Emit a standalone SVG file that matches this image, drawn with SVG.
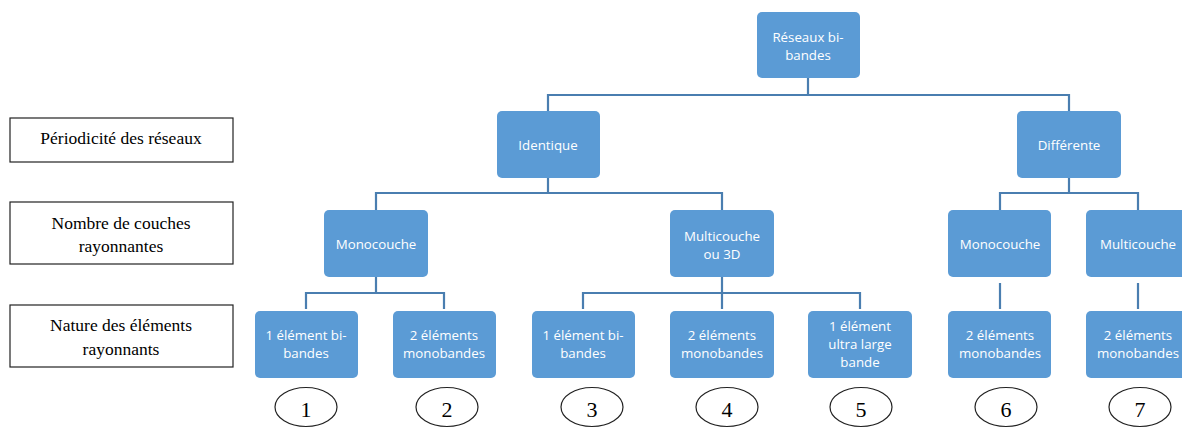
<svg xmlns="http://www.w3.org/2000/svg" width="1182" height="428" viewBox="0 0 1182 428">
<style>
.n{fill:#5B9BD5;}
.t{fill:#fff;font-family:"Open Sans","Liberation Sans",sans-serif;font-size:13.3px;text-anchor:middle;}
.c{fill:none;stroke:#4A7EB0;stroke-width:2.2;}
.lb{fill:#fff;stroke:#222;stroke-width:1.2;}
.lt{fill:#000;font-family:"Liberation Serif",serif;font-size:17.5px;text-anchor:middle;}
.el{fill:#fff;stroke:#222;stroke-width:1.2;}
.nt{fill:#000;font-family:"Liberation Serif",serif;font-size:22px;text-anchor:middle;}
</style>
<rect width="1182" height="428" fill="#fff"/>
<g id="connectors">
<path class="c" d="M808,78V95M548,111V95H1069V111"/>
<path class="c" d="M548,178V193M376,210V193H722V210"/>
<path class="c" d="M1069,178V193M1000,210V193H1138V210"/>
<path class="c" d="M376,277V293M306,309V293H444V309"/>
<path class="c" d="M722,277V309M583,309V293H860V309"/>
<path class="c" d="M1000,283V309"/>
<path class="c" d="M1138,283V309"/>
</g>
<g id="label-periodicite"><rect class="lb" x="10" y="118" width="223" height="44"/><text class="lt" x="121" y="144">Périodicité des réseaux</text></g>
<g id="label-couches"><rect class="lb" x="10" y="202" width="223" height="62"/><text class="lt" x="121" y="229">Nombre de couches</text><text class="lt" x="121" y="252">rayonnantes</text></g>
<g id="label-nature"><rect class="lb" x="10" y="305" width="223" height="62"/><text class="lt" x="121" y="331">Nature des éléments</text><text class="lt" x="121" y="355">rayonnants</text></g>
<g id="root"><rect class="n" x="757" y="12" width="103" height="66" rx="5"/><text class="t" x="808" y="42">Réseaux bi-</text><text class="t" x="808" y="60">bandes</text></g>
<g id="identique"><rect class="n" x="497" y="111" width="103" height="67" rx="5"/><text class="t" x="548" y="150">Identique</text></g>
<g id="differente"><rect class="n" x="1017" y="111" width="104" height="67" rx="5"/><text class="t" x="1069" y="150">Différente</text></g>
<g id="mono1"><rect class="n" x="324" y="210" width="104" height="67" rx="5"/><text class="t" x="376" y="249">Monocouche</text></g>
<g id="multi1"><rect class="n" x="670" y="210" width="104" height="67" rx="5"/><text class="t" x="722" y="241">Multicouche</text><text class="t" x="722" y="259">ou 3D</text></g>
<g id="mono2"><rect class="n" x="948" y="210" width="103" height="67" rx="5"/><text class="t" x="1000" y="249">Monocouche</text></g>
<g id="multi2"><rect class="n" x="1086" y="210" width="104" height="67" rx="5"/><text class="t" x="1138" y="249">Multicouche</text></g>
<g id="n1"><rect class="n" x="255" y="311" width="103" height="67" rx="5"/><text class="t" x="306" y="340">1 élément bi-</text><text class="t" x="306" y="358">bandes</text></g>
<g id="n2"><rect class="n" x="393" y="311" width="103" height="67" rx="5"/><text class="t" x="444" y="340">2 éléments</text><text class="t" x="444" y="358">monobandes</text></g>
<g id="n3"><rect class="n" x="532" y="311" width="103" height="67" rx="5"/><text class="t" x="583" y="340">1 élément bi-</text><text class="t" x="583" y="358">bandes</text></g>
<g id="n4"><rect class="n" x="670" y="311" width="104" height="67" rx="5"/><text class="t" x="722" y="340">2 éléments</text><text class="t" x="722" y="358">monobandes</text></g>
<g id="n5"><rect class="n" x="808" y="311" width="104" height="67" rx="5"/><text class="t" x="860" y="331">1 élément</text><text class="t" x="860" y="349">ultra large</text><text class="t" x="860" y="367">bande</text></g>
<g id="n6"><rect class="n" x="948" y="311" width="103" height="67" rx="5"/><text class="t" x="1000" y="340">2 éléments</text><text class="t" x="1000" y="358">monobandes</text></g>
<g id="n7"><rect class="n" x="1086" y="311" width="104" height="67" rx="5"/><text class="t" x="1138" y="340">2 éléments</text><text class="t" x="1138" y="358">monobandes</text></g>
<g id="num1"><ellipse class="el" cx="306" cy="407" rx="31" ry="19.5"/><text class="nt" x="306" y="417">1</text></g>
<g id="num2"><ellipse class="el" cx="447" cy="407" rx="31" ry="19.5"/><text class="nt" x="447" y="417">2</text></g>
<g id="num3"><ellipse class="el" cx="592" cy="407" rx="31" ry="19.5"/><text class="nt" x="592" y="417">3</text></g>
<g id="num4"><ellipse class="el" cx="727" cy="407" rx="31" ry="19.5"/><text class="nt" x="727" y="417">4</text></g>
<g id="num5"><ellipse class="el" cx="861" cy="407" rx="31" ry="19.5"/><text class="nt" x="861" y="417">5</text></g>
<g id="num6"><ellipse class="el" cx="1006" cy="407" rx="31" ry="19.5"/><text class="nt" x="1006" y="417">6</text></g>
<g id="num7"><ellipse class="el" cx="1140" cy="407" rx="31" ry="19.5"/><text class="nt" x="1140" y="417">7</text></g>
</svg>
